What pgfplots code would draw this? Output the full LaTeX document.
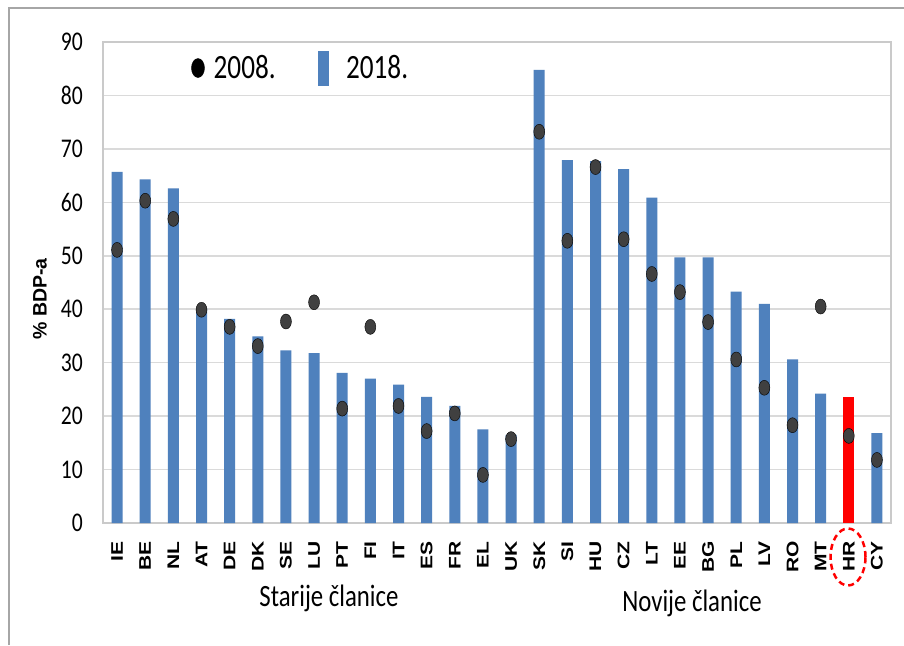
\documentclass[border=0pt]{standalone}
\usepackage{pgfplots}
\pgfplotsset{compat=1.18}
\usepackage{pgfplotstable}
\usepackage{fontspec}
\setmainfont{Carlito}
\newfontfamily\calib[FakeStretch=0.8]{Carlito}
\newfontfamily\arialr[FakeStretch=1.25]{Liberation Sans}
\newfontfamily\arialn{Liberation Sans}
\definecolor{barblue}{HTML}{4F81BD}
\definecolor{dotgray}{HTML}{404040}
\definecolor{gridgray}{HTML}{DADADA}
\definecolor{boxgray}{HTML}{CACACA}
\definecolor{framegray}{HTML}{A6A6A6}

% 2018 bars (HR separately)
\pgfplotstableread{
x y
0 65.7
1 64.3
2 62.6
3 40.2
4 38.2
5 34.9
6 32.3
7 31.8
8 28.1
9 27.0
10 25.9
11 23.6
12 21.9
13 17.5
14 16.5
15 84.8
16 67.9
17 67.7
18 66.2
19 60.9
20 49.7
21 49.7
22 43.3
23 41.0
24 30.6
25 24.2
27 16.8
}\bars
\pgfplotstableread{
x y
26 23.6
}\barhr
% 2008 dots
\pgfplotstableread{
x y
0 51.1
1 60.3
2 56.9
3 39.9
4 36.7
5 33.1
6 37.7
7 41.3
8 21.4
9 36.7
10 21.9
11 17.2
12 20.5
13 9.0
14 15.7
15 73.2
16 52.8
17 66.6
18 53.1
19 46.6
20 43.2
21 37.6
22 30.6
23 25.3
24 18.3
25 40.5
26 16.3
27 11.8
}\dots

\begin{document}
\begin{tikzpicture}
\useasboundingbox (0,0) rectangle (904pt,645pt);
\fill[white] (0,0) rectangle (904pt,645pt);
\draw[framegray, line width=2pt] (9pt,0pt) -- (9pt,637pt) -- (904pt,637pt);
\begin{axis}[
  at={(103pt,122pt)}, anchor=south west,
  scale only axis, width=788pt, height=481pt,
  xmin=-0.5, xmax=27.5, ymin=0, ymax=90,
  ytick={0,10,...,90},
  xtick={0,...,27},
  xticklabels={IE,BE,NL,AT,DE,DK,SE,LU,PT,FI,IT,ES,FR,EL,UK,SK,SI,HU,CZ,LT,EE,BG,PL,LV,RO,MT,HR,CY},
  ymajorgrids, grid style={draw=gridgray, line width=1.5pt},
  axis line style={draw=boxgray, line width=1.5pt},
  major tick length=0pt,
  tick style={draw=none},
  /pgf/number format/assume math mode=true,
  yticklabel style={font=\calib\fontsize{27}{27}\selectfont, anchor=east, inner sep=0pt, xshift=-20pt},
  xticklabel style={font=\arialr\bfseries\fontsize{16.8}{16.8}\selectfont, inner sep=0pt, yshift=-18pt, rotate=90, anchor=east},
  legend columns=2,
  legend style={at={(axis cs:2.63,85.13)}, anchor=west, draw=none, fill=none,
    inner sep=0pt, nodes={inner sep=0pt},
    font=\calib\fontsize{34}{34}\selectfont,
    /tikz/every odd column/.append style={column sep=9pt},
    /tikz/every even column/.append style={column sep=42pt}},
]
\addlegendimage{legend image code/.code={\fill[black] (0pt,0pt) ellipse [x radius=6.5pt, y radius=9.5pt];}}
\addlegendentry{2008.}
\addlegendimage{legend image code/.code={\fill[barblue] (-5pt,-17pt) rectangle (5pt,17pt); \path (14pt,0pt);}}
\addlegendentry{2018.}
\addplot[ybar, bar width=11pt, bar shift=0pt, fill=barblue, draw=none, forget plot] table {\bars};
\addplot[ybar, bar width=11pt, bar shift=0pt, fill=red, draw=none, forget plot] table {\barhr};
\addplot[only marks, mark=*, mark size=7.5pt, mark options={xscale=0.73, fill=dotgray, draw=none}, forget plot] table {\dots};
\end{axis}
\node[font=\calib\fontsize{31}{31}\selectfont] at (329pt,47pt) {Starije članice};
\node[font=\calib\fontsize{31}{31}\selectfont] at (692pt,42pt) {Novije članice};
\node[font=\arialn\bfseries\fontsize{19.5}{19.5}\selectfont, rotate=90, inner sep=0pt] at (40pt,346pt) {\% BDP-a};
\draw[red, line width=2.5pt, dash pattern=on 6pt off 4pt] (848pt,88pt) ellipse [x radius=17.5pt, y radius=28.5pt];
\end{tikzpicture}
\end{document}
